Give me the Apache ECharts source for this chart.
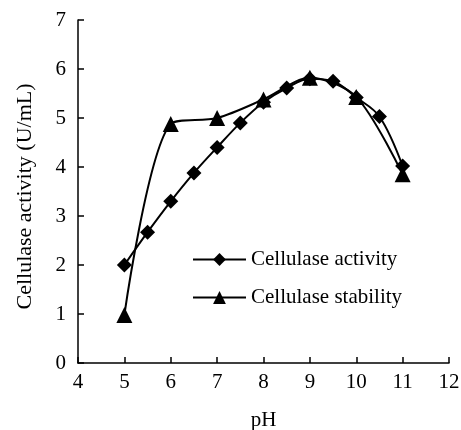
<!DOCTYPE html>
<html>
<head>
<meta charset="utf-8">
<script src="https://cdn.jsdelivr.net/npm/echarts@6/dist/echarts.min.js"></script>
<style>html,body{margin:0;padding:0;background:#fff;}#c{width:461px;height:430px;}</style>
</head>
<body>
<div id="c"></div>
<script>
const activityPH = [5, 5.5, 6, 6.5, 7, 7.5, 8, 8.5, 9, 9.5, 10, 10.5, 11];
const activityValues = [2.0, 2.67, 3.3, 3.88, 4.4, 4.9, 5.32, 5.61, 5.8, 5.75, 5.42, 5.03, 4.02];
const stabilityPH = [5, 6, 7, 8, 9, 10, 11];
const stabilityValues = [0.98, 4.88, 5.0, 5.38, 5.82, 5.43, 3.85];
const xTicks = [4, 5, 6, 7, 8, 9, 10, 11, 12];
const yTicks = [0, 1, 2, 3, 4, 5, 6, 7];
const seriesNames = ['Cellulase activity', 'Cellulase stability'];

const font = 'Liberation Serif, Times New Roman, serif';
const chart = echarts.init(document.getElementById('c'));
chart.setOption({
  animation: false,
  backgroundColor: '#fff',
  grid: { left: 78, right: 12, top: 20, bottom: 67, containLabel: false, outerBoundsMode: 'none' },
  legend: {
    orient: 'vertical',
    left: 192,
    top: 249,
    padding: 0,
    itemWidth: 53,
    itemHeight: 16,
    itemGap: 17,
    textStyle: { fontFamily: font, fontSize: 21, color: '#000', padding: [0, 0, 0, 0] },
    data: seriesNames
  },
  xAxis: {
    type: 'value',
    min: xTicks[0], max: xTicks[xTicks.length - 1], interval: 1,
    name: 'pH', nameLocation: 'middle', nameGap: 47,
    nameTextStyle: { fontFamily: font, fontSize: 21, color: '#000' },
    axisLine: { lineStyle: { color: '#000', width: 1.5 } },
    axisTick: { inside: true, length: 6, lineStyle: { color: '#000', width: 1.5 } },
    axisLabel: { fontFamily: font, fontSize: 21, color: '#000', margin: 9 },
    splitLine: { show: false }
  },
  yAxis: {
    type: 'value',
    min: yTicks[0], max: yTicks[yTicks.length - 1], interval: 1,
    name: 'Cellulase activity (U/mL)', nameLocation: 'middle', nameGap: 42,
    nameTextStyle: { fontFamily: font, fontSize: 22, color: '#000', padding: [0, 10, 0, 0] },
    axisLine: { show: true, lineStyle: { color: '#000', width: 1.5 } },
    axisTick: { show: true, inside: true, length: 6, lineStyle: { color: '#000', width: 1.5 } },
    axisLabel: { fontFamily: font, fontSize: 21, color: '#000', margin: 12 },
    splitLine: { show: false }
  },
  series: [
    {
      name: seriesNames[0], type: 'line', smooth: 0.35,
      data: activityPH.map((x, i) => [x, activityValues[i]]),
      symbol: 'diamond', symbolSize: 15,
      lineStyle: { color: '#000', width: 2 },
      itemStyle: { color: '#000' }
    },
    {
      name: seriesNames[1], type: 'line', smooth: 0.3,
      data: stabilityPH.map((x, i) => [x, stabilityValues[i]]),
      symbol: 'triangle', symbolSize: 16,
      lineStyle: { color: '#000', width: 2 },
      itemStyle: { color: '#000' }
    }
  ]
});
</script>
</body>
</html>
